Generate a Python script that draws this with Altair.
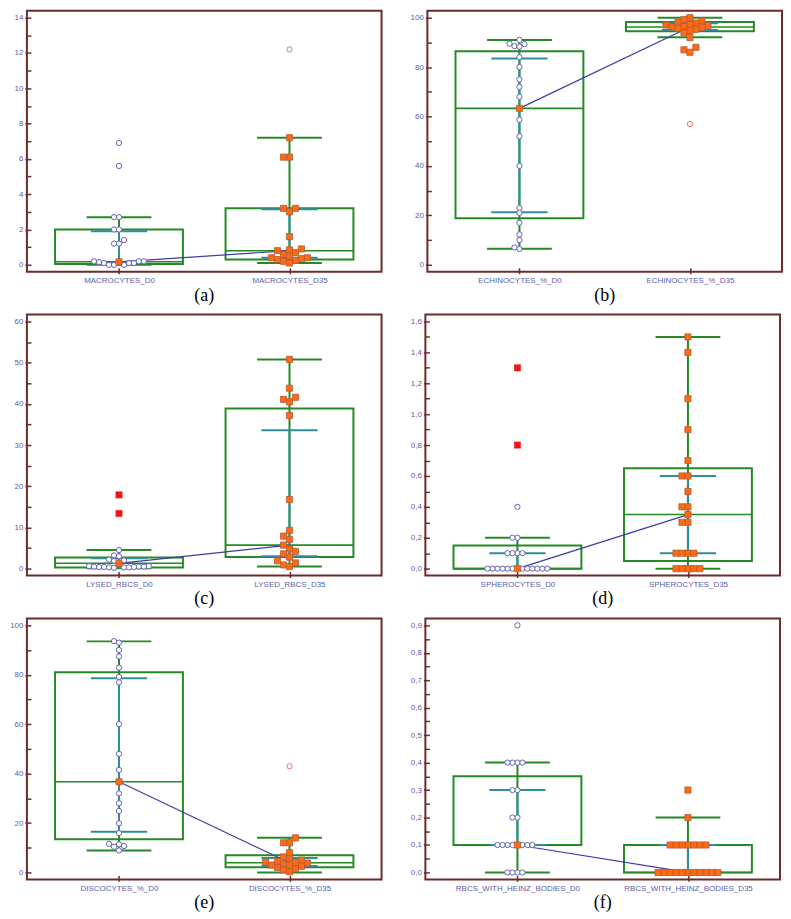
import altair as alt
import pandas as pd

# ------------------------------------------------------------------ data
A_CATS = ["MACROCYTES_D0", "MACROCYTES_D35"]
A_D0 = [6.9, 5.6, 2.7, 2.7, 2.0, 2.0, 1.4, 1.2, 1.2, 0.2, 0.2, 0.2, 0.15, 0.1, 0.1, 0.1, 0.0, 0.0, 0.0]
A_D35 = [7.2, 6.1, 6.1, 3.2, 3.2, 3.0, 1.6, 0.9, 0.85, 0.8, 0.7, 0.6, 0.5, 0.4, 0.4, 0.35, 0.3, 0.25, 0.2, 0.1]
A_RED_SQ = []          # far D0 values drawn as red squares
A_RED_CI = [12.2]      # D35 outside values drawn as red circles
A_STATS = {"q1": [0.05, 0.3], "med": [0.17, 0.8], "q3": [2.0, 3.2],
           "wlo": [0.0, 0.1], "whi": [2.7, 7.2], "tlo": [0.1, 0.4], "thi": [1.9, 3.15]}

B_CATS = ["ECHINOCYTES_%_D0", "ECHINOCYTES_%_D35"]
B_D0 = [91, 89.5, 89.3, 88.5, 88.3, 84, 80, 75, 72, 68, 58.7, 52, 40, 23, 21, 17, 12.3, 10, 7, 6.4]
B_D35 = [100, 99.3, 98.7, 98.2, 97.8, 97.3, 97, 96.8, 96.5, 96.2, 96, 95.7, 95.3, 94.8, 94, 92, 88, 87, 86]
B_RED_SQ = []
B_RED_CI = [57]
B_STATS = {"q1": [18.8, 94.5], "med": [63.3, 96.2], "q3": [86.4, 98.2],
           "wlo": [6.5, 92.1], "whi": [91, 100], "tlo": [21.3, 95.0], "thi": [83.5, 97.7]}

C_CATS = ["LYSED_RBCS_D0", "LYSED_RBCS_D35"]
C_D0 = [4.5, 3.2, 3.0, 2.2, 2.0, 1.9, 0.6, 0.6, 0.5, 0.5, 0.5, 0.4, 0.4, 0.4, 0.3, 0.3, 0.3, 0.2]
C_D35 = [50.8, 43.8, 41.6, 41.1, 40.5, 37.2, 16.8, 9.3, 7.9, 7.1, 5.7, 4.8, 4.2, 3.6, 2.8, 1.9, 1.4, 0.9, 0.5]
C_RED_SQ = [17.9, 13.4]
C_RED_CI = []
C_STATS = {"q1": [0.3, 2.8], "med": [1.3, 5.7], "q3": [2.7, 38.9],
           "wlo": [0.1, 0.5], "whi": [4.5, 50.8], "tlo": [0.3, 3.0], "thi": [2.5, 33.6]}

D_CATS = ["SPHEROCYTES_D0", "SPHEROCYTES_D35"]
D_D0 = [0.4, 0.2, 0.2, 0.1, 0.1, 0.1, 0.1, 0, 0, 0, 0, 0, 0, 0, 0, 0, 0, 0, 0]
D_D35 = [1.5, 1.4, 1.1, 0.9, 0.7, 0.6, 0.6, 0.5, 0.4, 0.4, 0.35, 0.3, 0.3, 0.1, 0.1, 0.1, 0.1, 0, 0, 0, 0, 0]
D_RED_SQ = [1.3, 0.8]
D_RED_CI = []
D_STATS = {"q1": [0.0, 0.05], "med": [0.0, 0.35], "q3": [0.15, 0.65],
           "wlo": [0.0, 0.0], "whi": [0.2, 1.5], "tlo": [0.0, 0.1], "thi": [0.1, 0.6]}

E_CATS = ["DISCOCYTES_%_D0", "DISCOCYTES_%_D35"]
E_D0 = [93.6, 93, 90, 87.4, 82.9, 79.1, 76.9, 60, 48, 41.5, 32, 28, 24.9, 19.9, 15.9, 11.6, 11.4, 10.7, 10.4, 8.9]
E_D35 = [14, 12, 12, 8, 6.3, 5.5, 5, 4.5, 4.2, 4, 3.8, 3.5, 3, 3, 2.5, 2, 1.5, 1, 0.3]
E_RED_SQ = []
E_RED_CI = [43]
E_STATS = {"q1": [13.4, 2.1], "med": [36.7, 3.9], "q3": [81, 7.0],
           "wlo": [8.9, 0.0], "whi": [93.5, 14], "tlo": [16.5, 2.6], "thi": [78.6, 5.9]}

F_CATS = ["RBCS_WITH_HEINZ_BODIES_D0", "RBCS_WITH_HEINZ_BODIES_D35"]
F_D0 = [0.9, 0.4, 0.4, 0.4, 0.4, 0.3, 0.3, 0.2, 0.2, 0.1, 0.1, 0.1, 0.1, 0.1, 0.1, 0.1, 0, 0, 0, 0]
F_D35 = [0.3, 0.2, 0.1, 0.1, 0.1, 0.1, 0.1, 0.1, 0.1, 0, 0, 0, 0, 0, 0, 0, 0, 0, 0, 0]
F_RED_SQ = []
F_RED_CI = []
F_STATS = {"q1": [0.1, 0.0], "med": [0.1, 0.0], "q3": [0.35, 0.1],
           "wlo": [0.0, 0.0], "whi": [0.4, 0.2], "tlo": [0.1, 0.0], "thi": [0.3, 0.1]}

# axis ranges: (max, major step, minor step, comma decimals)
A_AXIS = (14, 2, 1, False)
B_AXIS = (100, 20, 10, False)
C_AXIS = (60, 10, 5, False)
D_AXIS = (1.6, 0.2, 0.1, True)
E_AXIS = (100, 20, 10, False)
F_AXIS = (0.9, 0.1, 0.05, True)

# ------------------------------------------------------------------ style
W, H = 356, 262
XMIN, XMAX = 0.46, 2.54
BOX_HW, CAP_HW, TEAL_HW = 0.375, 0.19, 0.165
GREEN = "#258a25"
TEAL = "#2f8e9c"
NAVY = "#3c3ca6"
ORANGE = "#ff6a10"
ORANGE_EDGE = "#b65a3a"
CIRCLE = "#6464b4"
RED = "#ee1515"
REDCI = "#e47070"
MAROON = "#6e2b2b"
LBL = "#5c5ca8"


def swarm(values, ypx, fixed=None, d=4.8, step=5.0):
    xpx = W / (XMAX - XMIN)
    placed = []
    if fixed is not None:
        placed.append((0.0, fixed * ypx))
    offs = [0.0] * len(values)
    for i in sorted(range(len(values)), key=lambda j: values[j]):
        y = values[i] * ypx
        k = 0
        while True:
            if k == 0:
                c = 0.0
            else:
                m = (k + 1) // 2
                c = (-m if k % 2 else m) * step
            if all((c - px) ** 2 + (y - py) ** 2 >= d * d for px, py in placed):
                break
            k += 1
        placed.append((c, y))
        offs[i] = c / xpx
    return offs


def make_panel(tag, cats, d0, d35, red_sq, red_ci, stats, axis):
    ymax, major, minor, comma = axis
    pad = ymax * 0.028
    ypx = H / (ymax + 2 * pad)
    ys = alt.Scale(domain=[-pad, ymax + pad], nice=False, zero=False)
    xs = alt.Scale(domain=[XMIN, XMAX], nice=False, zero=False)
    n = int(round(ymax / minor))
    ticks = [round(i * minor, 6) for i in range(n + 1)]
    test = f"abs(datum.value / {major} - round(datum.value / {major})) < 0.001"
    fmt = "replace(format(datum.value, '.1f'), '.', ',')" if comma else "format(datum.value, 'd')"
    yaxis = alt.Axis(values=ticks, labelExpr=f"{test} ? {fmt} : ''",
                     tickSize={"condition": {"test": test, "value": 6}, "value": 4},
                     offset=-4, labelPadding=2, title=None)
    xaxis = alt.Axis(values=[1, 2], labelExpr=f"datum.value == 1 ? '{cats[0]}' : '{cats[1]}'",
                     tickSize=6, offset=-4, labelPadding=3, title=None)

    def X(f):
        return alt.X(f, type="quantitative", scale=xs, axis=xaxis)

    def Y(f):
        return alt.Y(f, type="quantitative", scale=ys, axis=yaxis)

    sdf = pd.DataFrame({"x": [1, 2], **stats})
    rows = []
    for v, o in zip(d0, swarm(d0, ypx, fixed=stats["med"][0])):
        rows.append({"x": 1, "off": o, "v": v, "kind": "circle"})
    for v, o in zip(d35, swarm(d35, ypx, d=5.8, step=6.0)):
        rows.append({"x": 2, "off": o, "v": v, "kind": "square"})
    for v in red_sq:
        rows.append({"x": 1, "off": 0.0, "v": v, "kind": "redsq"})
    for v in red_ci:
        rows.append({"x": 2, "off": 0.0, "v": v, "kind": "redci"})
    pdf = pd.DataFrame(rows)

    bs = alt.Chart(sdf).transform_calculate(
        xl=f"datum.x - {BOX_HW}", xr=f"datum.x + {BOX_HW}",
        cl=f"datum.x - {CAP_HW}", cr=f"datum.x + {CAP_HW}",
        tl=f"datum.x - {TEAL_HW}", tr=f"datum.x + {TEAL_HW}")
    bp = alt.Chart(pdf).transform_calculate(px="datum.x + datum.off")

    layers = [
        bs.mark_rect(fillOpacity=0, stroke=GREEN, strokeWidth=2).encode(x=X("xl"), x2="xr", y=Y("q1"), y2="q3"),
        bs.mark_rule(color=GREEN, strokeWidth=1.6).encode(x=X("xl"), x2="xr", y=Y("med")),
        bs.mark_rule(color=GREEN, strokeWidth=2).encode(x=X("x"), y=Y("wlo"), y2="whi"),
        bs.mark_rule(color=GREEN, strokeWidth=2).encode(x=X("cl"), x2="cr", y=Y("wlo")),
        bs.mark_rule(color=GREEN, strokeWidth=2).encode(x=X("cl"), x2="cr", y=Y("whi")),
        bs.mark_rule(color=TEAL, strokeWidth=2).encode(x=X("x"), y=Y("tlo"), y2="thi"),
        bs.mark_rule(color=TEAL, strokeWidth=2).encode(x=X("tl"), x2="tr", y=Y("tlo")),
        bs.mark_rule(color=TEAL, strokeWidth=2).encode(x=X("tl"), x2="tr", y=Y("thi")),
        bs.mark_line(color=NAVY, strokeWidth=1.2).encode(x=X("x"), y=Y("med")),
        bp.transform_filter("datum.kind == 'circle'").mark_point(
            shape="circle", filled=True, fill="white", stroke=CIRCLE, strokeWidth=1, size=28, opacity=1
        ).encode(x=X("px"), y=Y("v")),
        bp.transform_filter("datum.kind == 'square'").mark_point(
            shape="square", filled=True, fill=ORANGE, stroke=ORANGE_EDGE, strokeWidth=0.8, size=38, opacity=1
        ).encode(x=X("px"), y=Y("v")),
        bp.transform_filter("datum.kind == 'redsq'").mark_point(
            shape="square", filled=True, fill=RED, stroke=RED, strokeWidth=0.5, size=40, opacity=1
        ).encode(x=X("px"), y=Y("v")),
        bp.transform_filter("datum.kind == 'redci'").mark_point(
            shape="circle", filled=True, fill="white", stroke=REDCI, strokeWidth=1, size=28, opacity=1
        ).encode(x=X("px"), y=Y("v")),
        bs.transform_filter("datum.x == 1").mark_point(
            shape="square", filled=True, fill=ORANGE, stroke=ORANGE_EDGE, strokeWidth=0.8, size=38, opacity=1
        ).encode(x=X("x"), y=Y("med")),
    ]
    return alt.layer(*layers).properties(
        width=W, height=H,
        title=alt.TitleParams(tag, orient="bottom", font="Liberation Serif", fontSize=18,
                              fontWeight="normal", color="black", offset=2))


pa = make_panel("(a)", A_CATS, A_D0, A_D35, A_RED_SQ, A_RED_CI, A_STATS, A_AXIS)
pb = make_panel("(b)", B_CATS, B_D0, B_D35, B_RED_SQ, B_RED_CI, B_STATS, B_AXIS)
pc = make_panel("(c)", C_CATS, C_D0, C_D35, C_RED_SQ, C_RED_CI, C_STATS, C_AXIS)
pd_ = make_panel("(d)", D_CATS, D_D0, D_D35, D_RED_SQ, D_RED_CI, D_STATS, D_AXIS)
pe = make_panel("(e)", E_CATS, E_D0, E_D35, E_RED_SQ, E_RED_CI, E_STATS, E_AXIS)
pf = make_panel("(f)", F_CATS, F_D0, F_D35, F_RED_SQ, F_RED_CI, F_STATS, F_AXIS)

chart = alt.vconcat(
    alt.hconcat(pa, pb, spacing=26),
    alt.hconcat(pc, pd_, spacing=26),
    alt.hconcat(pe, pf, spacing=26),
    spacing=8,
).properties(padding=0).configure_view(
    stroke=MAROON, strokeWidth=2
).configure_axis(
    labelFont="Liberation Sans", labelFontSize=8, labelColor=LBL,
    tickColor=MAROON, tickWidth=1.5, domain=False, grid=False
)

chart.save("out.html", embed_options={"renderer": "svg", "actions": False})
